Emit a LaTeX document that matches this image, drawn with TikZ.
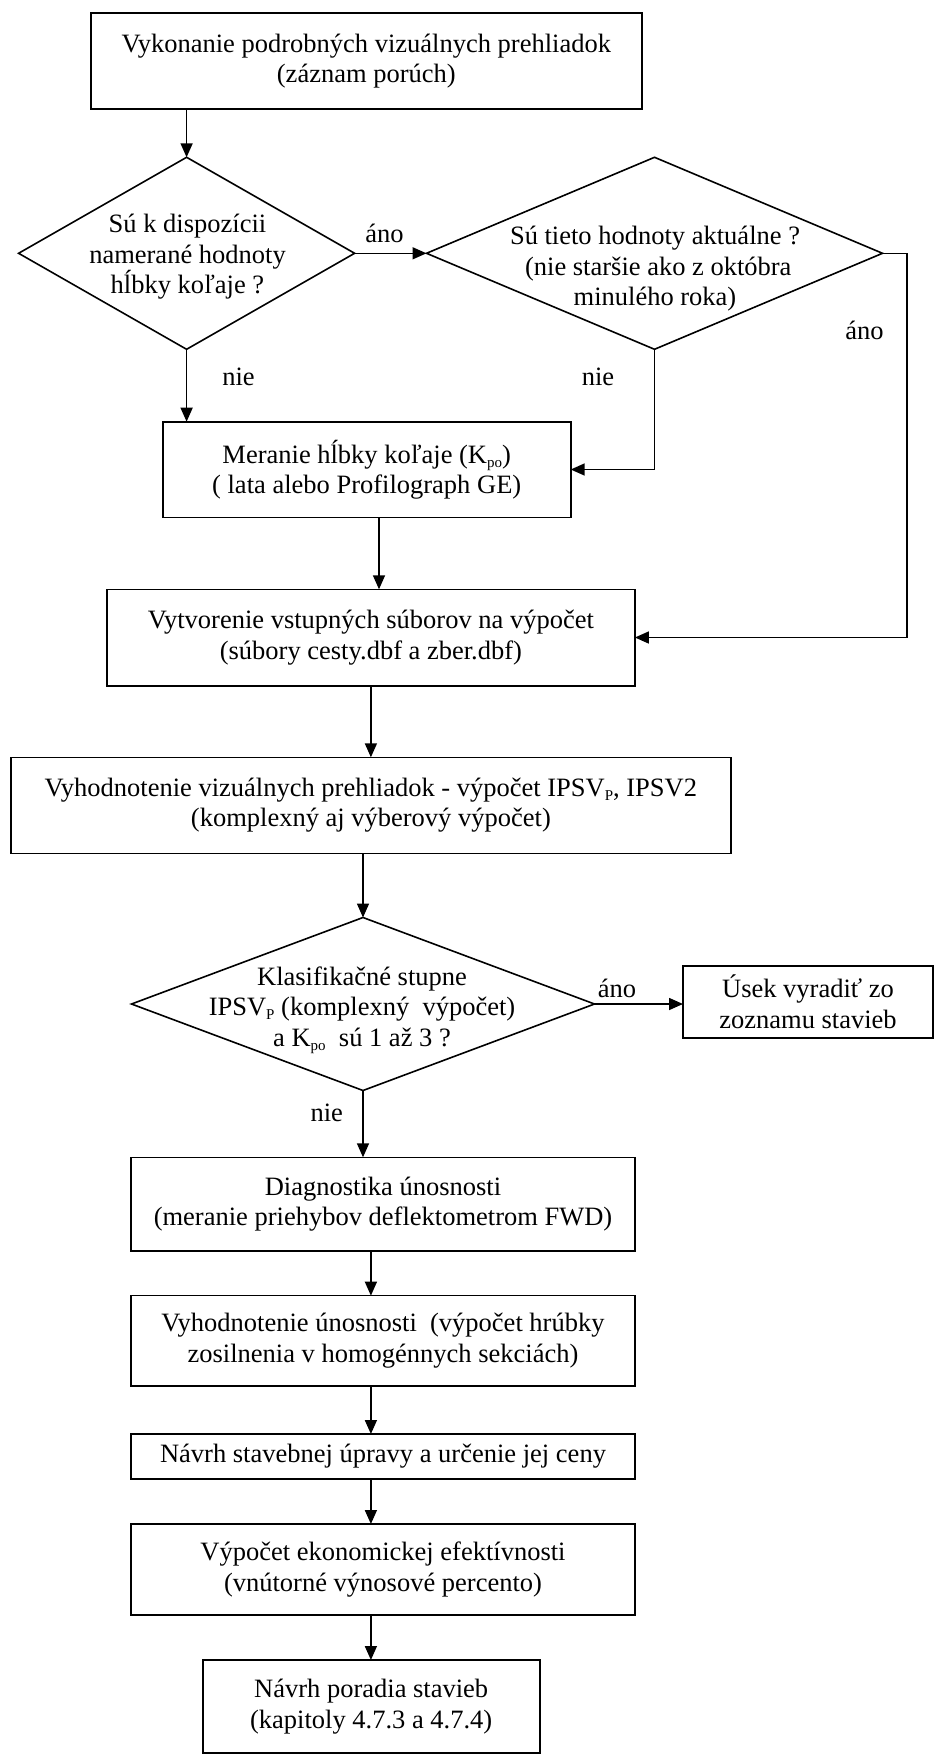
\documentclass[tikz,border=0pt]{standalone}
\usepackage{fontspec}
\setmainfont{Liberation Serif}
\usetikzlibrary{arrows.meta,shapes.geometric,calc}
\newcommand\mysub[1]{\raisebox{-4pt}{\fontsize{15}{15}\selectfont #1}}
\begin{document}
\begin{tikzpicture}[x=1pt,y=-1pt,
  every node/.style={font=\fontsize{26.5}{30.5}\selectfont},
  box/.style={draw,line width=1.6pt,rectangle,inner sep=0pt,outer sep=0pt,align=center},
  dia/.style={draw,line width=1.6pt,diamond,inner sep=0pt,outer sep=0pt},
  txt/.style={align=center,inner sep=0pt},
  lbl/.style={inner sep=0pt},
  arr/.style={line width=1.6pt,-{Triangle[length=14pt,width=12pt]}},
  ln/.style={line width=1.6pt}]
\useasboundingbox (0,0) rectangle (935,1755);

% boxes
\node[box,minimum width=551pt,minimum height=96pt] (b1) at (366.3,61.3)
  {Vykonanie podrobných vizuálnych prehliadok\\(záznam porúch)};
\node[box,minimum width=408pt,minimum height=95.6pt] (b2) at (366.7,469.5)
  {Meranie hĺbky koľaje (K\mysub{po})\\(\ lata alebo Profilograph GE)};
\node[box,minimum width=528pt,minimum height=96.4pt] (b3) at (370.9,637.5)
  {Vytvorenie vstupných súborov na výpočet\\(súbory cesty.dbf a zber.dbf)};
\node[box,minimum width=720pt,minimum height=96pt] (b4) at (370.9,805.3)
  {Vyhodnotenie vizuálnych prehliadok - výpočet IPSV\mysub{P}, IPSV2\\(komplexný aj výberový výpočet)};
\node[box,minimum width=250pt,minimum height=72pt] (b5) at (808,1001.7)
  {Úsek vyradiť zo\\zoznamu stavieb};
\node[box,minimum width=504pt,minimum height=93.4pt] (b6) at (383,1204)
  {Diagnostika únosnosti\\(meranie priehybov deflektometrom FWD)};
\node[box,minimum width=504pt,minimum height=90.3pt] (b7) at (383,1340.8)
  {Vyhodnotenie únosnosti\ \ (výpočet hrúbky\\zosilnenia v homogénnych sekciách)};
\node[box,minimum width=504pt,minimum height=45pt] (b8) at (383,1456.5)
  {Návrh stavebnej úpravy a určenie jej ceny};
\node[box,minimum width=504pt,minimum height=91pt] (b9) at (383,1569.5)
  {Výpočet ekonomickej efektívnosti\\(vnútorné výnosové percento)};
\node[box,minimum width=337pt,minimum height=93pt] (b10) at (371.2,1706.5)
  {Návrh poradia stavieb\\(kapitoly 4.7.3 a 4.7.4)};

% diamonds
\node[dia,minimum width=336pt,minimum height=192pt] (d1) at (186.6,253.3) {};
\node[txt] at (187.5,257) {Sú k dispozícii\\namerané hodnoty\\hĺbky koľaje ?};
\node[dia,minimum width=456pt,minimum height=192pt] (d2) at (654.5,253.3) {};
\node[txt] at (655,269) {Sú tieto hodnoty aktuálne ?\\\ (nie staršie ako z októbra\\minulého roka)};
\node[dia,minimum width=463pt,minimum height=173pt] (d3) at (363,1004) {};
\node[txt] at (362,1010) {Klasifikačné stupne\\IPSV\mysub{P} (komplexný\ \ výpočet)\\a K\mysub{po}\ \ sú 1 až 3 ?};

% helper coordinates
\coordinate (ax) at (370.9,0);
\coordinate (bx) at (379,0);
\coordinate (rr) at (907,253.3);

% connectors
\draw[arr] (d1.north |- b1.south) -- (d1.north);
\draw[arr] (d1.east) -- (d2.west);
\draw[ln] (d2.east) -- (rr);
\draw[arr] (rr) |- (b3.east);
\draw[arr] (d1.south) -- (d1.south |- b2.north);
\draw[arr] (d2.south) |- (b2.east);
\draw[arr] (b2.south -| bx) -- (b3.north -| bx);
\draw[arr] (b3.south -| ax) -- (b4.north -| ax);
\draw[arr] (d3.north |- b4.south) -- (d3.north);
\draw[arr] (d3.east) -- (d3.east -| b5.west);
\draw[arr] (d3.south) -- (d3.south |- b6.north);
\draw[arr] (b6.south -| ax) -- (b7.north -| ax);
\draw[arr] (b7.south -| ax) -- (b8.north -| ax);
\draw[arr] (b8.south -| ax) -- (b9.north -| ax);
\draw[arr] (b9.south -| ax) -- (b10.north -| ax);

% labels
\node[lbl] at (384.6,233) {áno};
\node[lbl] at (864.6,330) {áno};
\node[lbl] at (238.5,376.7) {nie};
\node[lbl] at (598,376.7) {nie};
\node[lbl] at (617,988.3) {áno};
\node[lbl] at (326.8,1113.3) {nie};
\end{tikzpicture}
\end{document}
